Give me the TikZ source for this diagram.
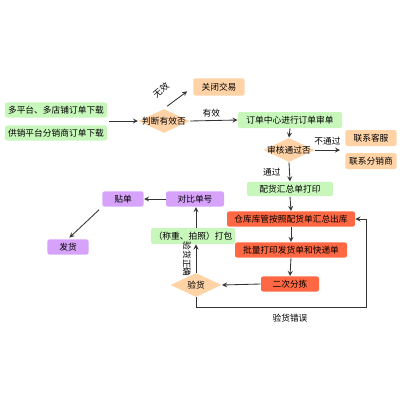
\documentclass[tikz,border=0pt]{standalone}
\usepackage{fontspec}
\setmainfont{Noto Sans CJK SC}
\usetikzlibrary{shapes.geometric}

\definecolor{hellgruen}{RGB}{200,247,188}
\definecolor{pfirsich}{RGB}{255,211,166}
\definecolor{rotorange}{RGB}{255,104,66}
\definecolor{lila}{RGB}{214,162,250}
\definecolor{linie}{RGB}{51,51,51}

\tikzset{
  kasten/.style={rounded corners=1.5pt, inner sep=0pt, font=\fontsize{6.2pt}{7pt}\selectfont},
  gruen/.style={kasten, fill=hellgruen},
  orange/.style={kasten, fill=pfirsich},
  rot/.style={kasten, fill=rotorange},
  violett/.style={kasten, fill=lila},
  raute/.style={diamond, fill=pfirsich, inner sep=0pt, minimum width=12.8mm, minimum height=6mm,
                label={[font=\fontsize{6.2pt}{7pt}\selectfont]center:#1}},
  beschr/.style={font=\fontsize{6.2pt}{7pt}\selectfont, inner sep=0pt},
}

\begin{document}
\begin{tikzpicture}[x=0.25mm, y=-0.25mm, >=stealth, line width=0.6pt, draw=linie]
  \useasboundingbox (0,0) rectangle (400,400);

  % Auftragsquellen
  \node[gruen, minimum width=25.5mm, minimum height=3.8mm] (quelle1) at (56,110) {多平台、多店铺订单下载};
  \node[gruen, minimum width=25.5mm, minimum height=3.8mm] (quelle2) at (56,133) {供销平台分销商订单下载};
  \coordinate (quellmitte) at (109,121);

  % erste Pruefung
  \node[raute=判断有效否] (gueltig) at (164,121) {};
  \node[orange, minimum width=12.8mm, minimum height=4.3mm] (schliessen) at (219,87) {关闭交易};

  % Auftragszentrum
  \node[gruen, minimum width=26mm, minimum height=4mm] (zentrum) at (290,120) {订单中心进行订单审单};
  \node[raute=审核通过否] (freigabe) at (289,150) {};
  \coordinate (kontakt) at (340,150);
  \node[orange, minimum width=12.8mm, minimum height=4mm] (kundendienst) at (371,138) {联系客服};
  \node[orange, minimum width=12.8mm, minimum height=4mm] (haendler) at (371,161) {联系分销商};

  % Lager
  \node[gruen, minimum width=21.5mm, minimum height=3.6mm] (sammel) at (290,189) {配货汇总单打印};
  \node[rot, minimum width=32mm, minimum height=3.8mm] (lager) at (291,219) {仓库库管按照配货单汇总出库};
  \node[rot, minimum width=28mm, minimum height=3.8mm] (druck) at (291,250) {批量打印发货单和快递单};
  \node[rot, minimum width=14.5mm, minimum height=3.8mm] (sortieren) at (290,284) {二次分拣};
  \node[raute=验货] (kontrolle) at (196,285) {};
  \coordinate (ecke) at (366,307);

  % Versand
  \node[gruen, minimum width=21mm, minimum height=4mm] (packen) at (193,236) {（称重、拍照）打包};
  \node[violett, minimum width=14.5mm, minimum height=3.8mm] (vergleich) at (195,199) {对比单号};
  \node[violett, minimum width=10.3mm, minimum height=3.8mm] (kleben) at (123,199) {贴单};
  \node[violett, minimum width=10.3mm, minimum height=3.8mm] (versand) at (68,247) {发货};

  % Beschriftungen
  \node[beschr, rotate=40] (ungueltig) at (161,90) {无效};
  \node[beschr] (fehler) at (290,318) {验货错误};
  \node[beschr, rotate=-90] (korrekt) at (187,259) {验货正确};

  % Pfeile
  \draw[->] (quellmitte) -- (gueltig.west);
  \draw[->, shorten <=1mm, shorten >=1.8mm] (gueltig.north) -- (schliessen.west);
  \draw[->] (gueltig.east) -- (zentrum.west) node[beschr, pos=0.45, above=2pt] {有效};
  \draw[->] (zentrum.south) -- (freigabe.north);
  \draw[->] (freigabe.east) -- (kontakt) node[beschr, midway, above=3pt] {不通过};
  \draw[->] (freigabe.south) -- (sammel.north) node[beschr, midway, left=6pt] {通过};
  \draw[->] (sammel.south) -- (lager.north);
  \draw[->] (lager.south) -- (druck.north);
  \draw[->] (druck.south) -- (sortieren.north);
  \draw[->] (sortieren.west) -- (kontrolle.east);
  \draw[->] (kontrolle.south) |- (ecke) |- (lager.east);
  \draw[->] (kontrolle.north) -- (kontrolle.north |- packen.south);
  \draw[->] (kontrolle.north |- packen.north) -- (kontrolle.north |- vergleich.south);
  \draw[->] (vergleich.west) -- (kleben.east);
  \draw[->, shorten <=1mm, shorten >=0.5mm] (kleben.south west) -- (versand.north);
\end{tikzpicture}
\end{document}
